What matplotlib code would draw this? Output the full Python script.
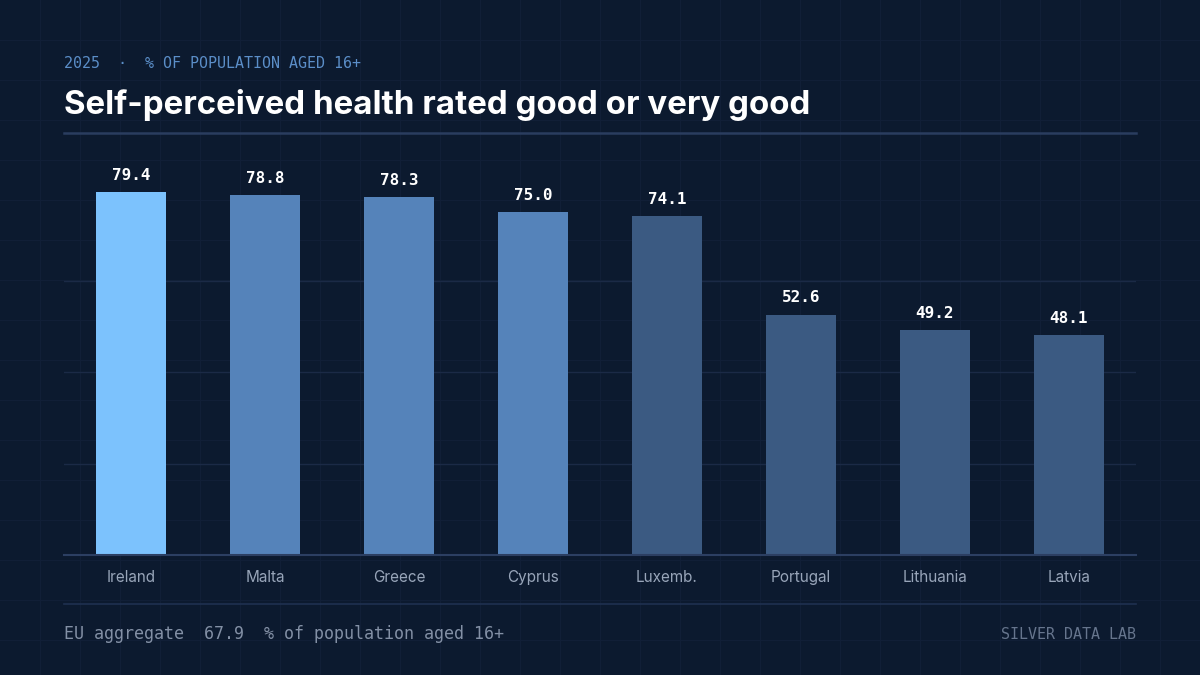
import matplotlib
matplotlib.use("Agg")
import matplotlib.pyplot as plt
from matplotlib.lines import Line2D

# Data
countries = ["Ireland", "Malta", "Greece", "Cyprus", "Luxemb.", "Portugal", "Lithuania", "Latvia"]
values = [79.4, 78.8, 78.3, 75.0, 74.1, 52.6, 49.2, 48.1]
tiers = ["top", "mid", "mid", "mid", "low", "low", "low", "low"]
eu_value = 67.9

# Styling
BG = "#0c1a2f"
BG_GRID = "#111f37"
tier_colors = {"top": "#7cc2fd", "mid": "#5583ba", "low": "#3b5a82"}
MONO = ["DejaVu Sans Mono"]
SANS = ["Inter", "DejaVu Sans"]

W, H = 1200, 675
fig = plt.figure(figsize=(12, 6.75), dpi=100, facecolor=BG)

# faint background grid (every 40 px)
for gx in range(40, W, 40):
    fig.add_artist(Line2D([gx / W, gx / W], [0, 1], color=BG_GRID, lw=0.8, zorder=0))
for gy in range(40, H, 40):
    fig.add_artist(Line2D([0, 1], [1 - gy / H, 1 - gy / H], color=BG_GRID, lw=0.8, zorder=0))

# main axes
left, right = 64 / W, 1136 / W
bottom = (H - 555) / H
ymax = max(values) * 1.1
px_per_unit = (555 - 192) / max(values)
height = ymax * px_per_unit / H
ax = fig.add_axes([left, bottom, right - left, height])
ax.set_facecolor("none")

x = list(range(len(countries)))
colors = [tier_colors[t] for t in tiers]
bars = ax.bar(x, values, width=0.52, color=colors, zorder=3)

for xi, v in zip(x, values):
    ax.annotate(f"{v:.1f}", (xi, v), xytext=(0, 6.5), textcoords="offset points",
                ha="center", va="bottom", color="white", fontsize=11.5,
                fontweight="bold", family=MONO, zorder=4)

ax.set_xlim(-0.5, len(countries) - 0.5)
ax.set_ylim(0, ymax)
ax.set_yticks([20, 40, 60])
ax.yaxis.grid(True, color="#1b2a46", lw=1, zorder=1)
ax.tick_params(axis="y", length=0, labelleft=False)
ax.set_xticks(x)
ax.set_xticklabels(countries, family=SANS, fontsize=11, color="#98a5b9")
ax.tick_params(axis="x", length=0, pad=11)
for s in ["top", "right", "left"]:
    ax.spines[s].set_visible(False)
ax.spines["bottom"].set_color("#2c3f62")
ax.spines["bottom"].set_linewidth(1.5)
ax.spines["bottom"].set_zorder(5)

# header
fig.text(64 / W, 1 - 68 / H, "2025  ·  % OF POPULATION AGED 16+", family=MONO,
         fontsize=10.8, color="#5b8ec8", ha="left", va="baseline")
fig.text(64 / W, 1 - 114 / H, "Self-perceived health rated good or very good",
         family=SANS, fontsize=23.8, fontweight="bold", color="white",
         ha="left", va="baseline")
fig.add_artist(Line2D([left, right], [1 - 132.5 / H, 1 - 132.5 / H], color="#2a3d5f", lw=1.8))

# footer
fig.add_artist(Line2D([left, right], [1 - 603.5 / H, 1 - 603.5 / H], color="#1f3050", lw=1.2))
fig.text(64 / W, 1 - 639 / H, f"EU aggregate  {eu_value:.1f}  % of population aged 16+",
         family=MONO, fontsize=12, color="#8390a5", ha="left", va="baseline")
fig.text(1136 / W, 1 - 639 / H, "SILVER DATA LAB", family=MONO, fontsize=10.8,
         color="#66758d", ha="right", va="baseline")

fig.savefig("out.png", dpi=100, facecolor=BG)
